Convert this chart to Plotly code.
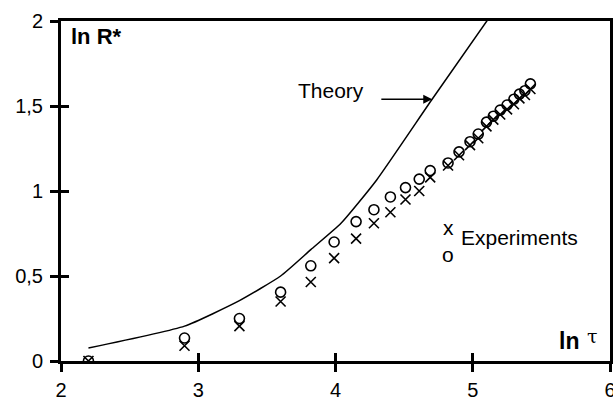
import plotly.graph_objects as go

# Experimental points (ln tau, ln R*) for the two measurement series
ln_tau_exp = [2.2, 2.9, 3.3, 3.6, 3.82, 3.99, 4.15, 4.28, 4.40, 4.51, 4.61, 4.69,
              4.82, 4.90, 4.98, 5.04, 5.10, 5.15, 5.20, 5.25, 5.30, 5.34, 5.38, 5.42]
ln_r_circles = [0.0, 0.135, 0.25, 0.405, 0.56, 0.70, 0.82, 0.89, 0.965, 1.02, 1.07, 1.12,
                1.165, 1.23, 1.29, 1.335, 1.405, 1.44, 1.476, 1.506, 1.54, 1.57, 1.59, 1.63]
ln_r_crosses = [0.0, 0.09, 0.205, 0.35, 0.465, 0.605, 0.72, 0.81, 0.875, 0.95, 1.0, 1.08,
                1.15, 1.21, 1.27, 1.31, 1.38, 1.42, 1.45, 1.48, 1.51, 1.545, 1.565, 1.60]

# Theoretical curve
ln_tau_theory = [2.2, 2.9, 3.3, 3.6, 3.82, 4.04, 4.3, 4.7, 5.12]
ln_r_theory = [0.076, 0.205, 0.355, 0.50, 0.655, 0.81, 1.065, 1.535, 2.02]

# Axis ticks
x_ticks = [2, 3, 4, 5, 6]
x_labels = ["2", "3", "4", "5", "6"]
y_ticks = [0, 0.5, 1, 1.5, 2]
y_labels = ["0", "0,5", "1", "1,5", "2"]

FONT = "Liberation Sans, Arial, sans-serif"
BLACK = "#000000"

fig = go.Figure()

fig.add_trace(go.Scatter(
    x=ln_tau_theory, y=ln_r_theory, mode="lines",
    line=dict(color=BLACK, width=1.5, shape="spline", smoothing=0.5),
    showlegend=False, hoverinfo="skip"))

fig.add_trace(go.Scatter(
    x=ln_tau_exp, y=ln_r_crosses, mode="markers",
    marker=dict(symbol="x-thin", size=10, line=dict(color=BLACK, width=1.6)),
    showlegend=False))

fig.add_trace(go.Scatter(
    x=ln_tau_exp, y=ln_r_circles, mode="markers",
    marker=dict(symbol="circle-open", size=10, color=BLACK, line=dict(color=BLACK, width=1.6)),
    showlegend=False))

# Invisible trace so the overlay axes (inner tick halves) are drawn
fig.add_trace(go.Scatter(x=[None], y=[None], xaxis="x2", yaxis="y2",
                         mode="markers", showlegend=False, hoverinfo="skip"))

axis_common = dict(showgrid=False, zeroline=False, showline=True, linecolor=BLACK,
                   linewidth=3, mirror=True, ticks="outside", ticklen=8,
                   tickwidth=3, tickcolor=BLACK, automargin=False)

fig.update_layout(
    width=613, height=401,
    margin=dict(l=61, r=3, t=21, b=40),
    paper_bgcolor="white", plot_bgcolor="white",
    font=dict(family=FONT, color=BLACK),
    xaxis=dict(range=[2, 6], tickvals=x_ticks, ticktext=x_labels,
               tickfont=dict(size=20, family=FONT, color=BLACK),
               ticklabelstandoff=1, ticklabeloverflow="allow", **axis_common),
    yaxis=dict(range=[0, 2], tickvals=y_ticks, ticktext=y_labels,
               tickfont=dict(size=20, family=FONT, color=BLACK),
               ticklabelstandoff=3, **axis_common),
    xaxis2=dict(range=[2, 6], overlaying="x", side="bottom", tickvals=x_ticks,
                showticklabels=False, showgrid=False, zeroline=False, showline=False,
                ticks="inside", ticklen=8, tickwidth=3, tickcolor=BLACK, automargin=False),
    yaxis2=dict(range=[0, 2], overlaying="y", side="left", tickvals=y_ticks,
                showticklabels=False, showgrid=False, zeroline=False, showline=False,
                ticks="inside", ticklen=8, tickwidth=3, tickcolor=BLACK, automargin=False),
)

annotations = [
    # axis titles inside the frame
    dict(x=2.055, y=1.906, text="<b>ln R*</b>", xanchor="left", yanchor="middle",
         font=dict(size=22)),
    dict(x=5.615, y=0.12, text="<b>ln</b>", xanchor="left", yanchor="middle",
         font=dict(size=23)),
    dict(x=5.815, y=0.145, text="τ", xanchor="left", yanchor="middle",
         font=dict(size=19, family="DejaVu Serif, serif")),
    # theory label with arrow pointing to the curve
    dict(x=3.715, y=1.594, text="Theory", xanchor="left", yanchor="middle",
         font=dict(size=21)),
    dict(x=4.705, y=1.539, ax=4.323, ay=1.539, axref="x", ayref="y",
         showarrow=True, arrowhead=2, arrowsize=1.2, arrowwidth=1.5,
         arrowcolor=BLACK, text=""),
    # experiments key
    dict(x=4.82, y=0.788, text="x", xanchor="center", yanchor="middle",
         font=dict(size=21)),
    dict(x=4.82, y=0.629, text="o", xanchor="center", yanchor="middle",
         font=dict(size=21)),
    dict(x=4.9, y=0.729, text="Experiments", xanchor="left", yanchor="middle",
         font=dict(size=21)),
]
for a in annotations:
    a.setdefault("showarrow", False)
    a.setdefault("xref", "x")
    a.setdefault("yref", "y")
fig.update_layout(annotations=annotations)

fig.write_html("out.html")
